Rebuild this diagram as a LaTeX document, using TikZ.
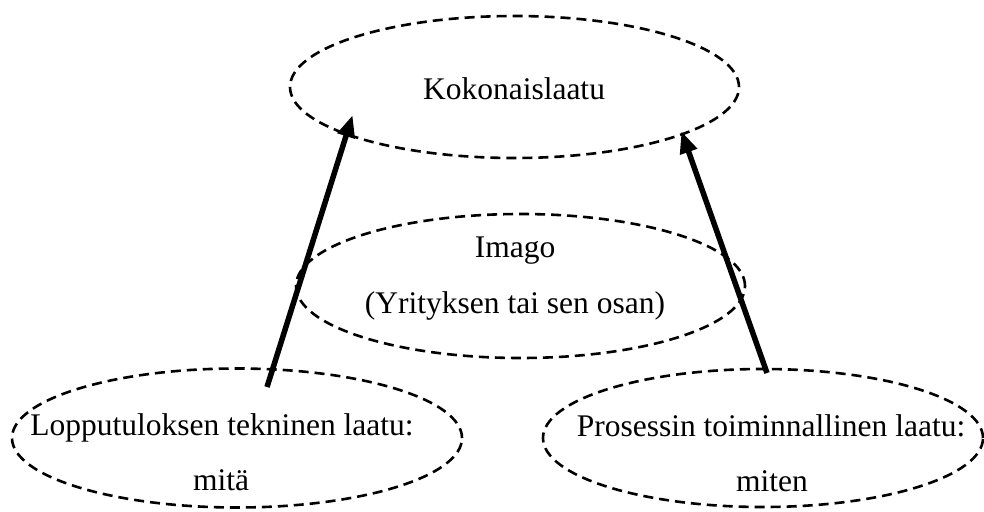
\documentclass[tikz,border=0pt]{standalone}
\usepackage{fontspec}
\setmainfont{Liberation Serif}
\usetikzlibrary{shapes.geometric,arrows.meta}
\tikzset{
  oval/.style={ellipse, draw=black, line width=2.6pt, dash pattern=on 10pt off 6pt, inner sep=0pt},
  label text/.style={anchor=base, inner sep=0pt, font=\fontsize{31.5}{38}\selectfont},
  influence/.style={line width=5.5pt, -{Triangle[length=22pt,width=17pt]}, shorten >=-2pt}
}
\begin{document}
\begin{tikzpicture}[x=1pt,y=-1pt]
  \useasboundingbox (0,0) rectangle (984,511);

  % the four quality areas
  \node[oval, minimum width=449pt, minimum height=142pt] (total) at (514.5,87) {};
  \node[oval, minimum width=449pt, minimum height=144pt] (image) at (520.5,286) {};
  \node[oval, minimum width=450pt, minimum height=139pt] (tech)  at (237,438) {};
  \node[oval, minimum width=440pt, minimum height=138pt] (func)  at (763,438) {};

  % texts
  \node[label text] (totalT) at (514,99) {Kokonaislaatu};
  \node[label text] (imageT1) at (515,257) {Imago};
  \node[label text] (imageT2) at (515,313) {(Yrityksen tai sen osan)};
  \node[label text] (techT1) at (222,435) {Lopputuloksen tekninen laatu:};
  \node[label text] (techT2) at (221,490) {mitä};
  \node[label text] (funcT1) at (771,436) {Prosessin toiminnallinen laatu:};
  \node[label text] (funcT2) at (772,491) {miten};

  % arrow ends
  \coordinate (techTop) at (267,387);
  \coordinate (funcTop) at (767,373);
  \coordinate (totalLeft) at (352,117);
  \coordinate (totalRight) at (682,133);

  \draw[influence] (techTop) -- (totalLeft);
  \draw[influence] (funcTop) -- (totalRight);
\end{tikzpicture}
\end{document}
